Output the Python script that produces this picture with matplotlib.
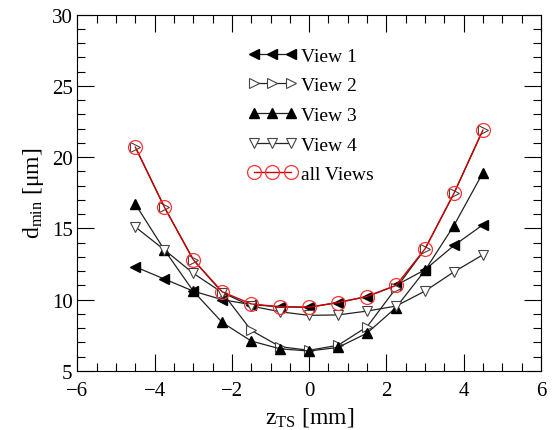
import matplotlib
matplotlib.use('Agg')
import matplotlib.pyplot as plt
from matplotlib.ticker import MultipleLocator

plt.rcParams['font.family'] = ['Liberation Serif', 'DejaVu Serif']
plt.rcParams['mathtext.fontset'] = 'custom'
plt.rcParams['mathtext.rm'] = 'Liberation Serif'
plt.rcParams['mathtext.it'] = 'Liberation Serif:italic'

# z position of the target (mm)
z = [-4.5, -3.75, -3, -2.25, -1.5, -0.75, 0, 0.75, 1.5, 2.25, 3, 3.75, 4.5]

view1 = [12.3, 11.45, 10.6, 10.0, 9.65, 9.5, 9.47, 9.8, 10.22, 11.0, 12.1, 13.8, 15.25]
view2 = [20.7, 16.5, 12.8, 10.5, 7.85, 6.7, 6.45, 6.8, 8.1, 10.8, 13.55, 17.45, 21.9]
view3 = [16.7, 13.5, 10.6, 8.4, 7.1, 6.55, 6.4, 6.65, 7.65, 9.45, 12.05, 15.2, 18.9]
view4 = [15.1, 13.5, 11.85, 10.5, 9.55, 9.15, 8.9, 8.93, 9.2, 9.55, 10.6, 11.95, 13.15]
all_views = [20.7, 16.5, 12.8, 10.55, 9.7, 9.5, 9.47, 9.8, 10.22, 11.0, 13.56, 17.46, 21.9]

fig = plt.figure(figsize=(5.53, 4.31), dpi=100)
ax = fig.add_axes([0.140, 0.137, 0.838, 0.827])

ax.plot(z, view1, color='#222222', lw=0.9, marker='<', ms=7, mfc='black', mec='black', label='View 1')
ax.plot(z, view2, color='#222222', lw=0.9, marker='>', ms=7, mfc='white', mec='#444444', mew=0.8, label='View 2')
ax.plot(z, view3, color='#222222', lw=0.9, marker='^', ms=7, mfc='black', mec='black', label='View 3')
ax.plot(z, view4, color='#222222', lw=0.9, marker='v', ms=7, mfc='white', mec='#444444', mew=0.8, label='View 4')
ax.plot(z, all_views, color='#cc0000', lw=1.0, marker='o', ms=10, mfc='none', mec='#ff3333', mew=0.9, label='all Views')

ax.set_xlim(-6, 6)
ax.set_ylim(5, 30)
ax.xaxis.set_major_locator(MultipleLocator(2))
ax.xaxis.set_minor_locator(MultipleLocator(0.5))
ax.yaxis.set_major_locator(MultipleLocator(5))
ax.yaxis.set_minor_locator(MultipleLocator(1))
ax.tick_params(which='both', direction='in', top=True, right=True, labelsize=15, width=0.8)
ax.tick_params(which='major', length=12)
ax.tick_params(which='minor', length=6)
ax.tick_params(axis='x', pad=7)

ax.set_xlabel(r'z$_{\mathrm{TS}}$ [mm]', fontsize=17)
ax.set_ylabel(r'd$_{\mathrm{min}}$ [μm]', fontsize=17)

ax.legend(loc='upper left', bbox_to_anchor=(0.33, 0.958), frameon=False, numpoints=3,
          handlelength=2.5, fontsize=14, labelspacing=0.62, handletextpad=0.25)

fig.savefig('out.png', dpi=100)
